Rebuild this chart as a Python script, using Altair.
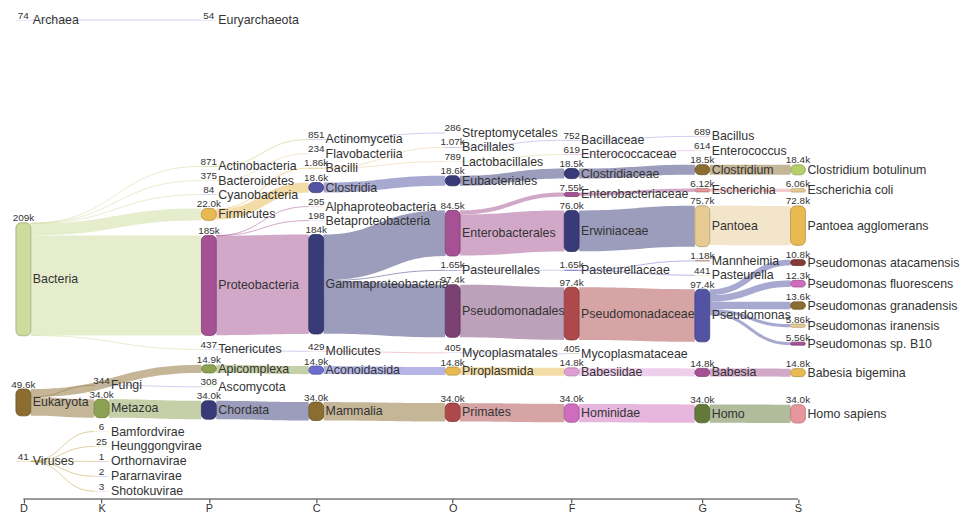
import altair as alt
import pandas as pd

# ---------------- data (taxonomy tree, depth-first order) ----------------
ranks = ["D", "K", "P", "C", "O", "F", "G", "S"]

taxa = [
    "Archaea", "Euryarchaeota",
    "Bacteria",
    "Actinobacteria", "Actinomycetia", "Streptomycetales",
    "Bacteroidetes", "Flavobacteriia",
    "Cyanobacteria",
    "Firmicutes", "Bacilli", "Bacillales", "Bacillaceae", "Bacillus",
    "Lactobacillales", "Enterococcaceae", "Enterococcus",
    "Clostridia", "Eubacteriales", "Clostridiaceae", "Clostridium", "Clostridium botulinum",
    "Proteobacteria", "Alphaproteobacteria", "Betaproteobacteria", "Gammaproteobacteria",
    "Enterobacterales", "Enterobacteriaceae", "Escherichia", "Escherichia coli",
    "Erwiniaceae", "Pantoea", "Pantoea agglomerans",
    "Pasteurellales", "Pasteurellaceae", "Mannheimia", "Pasteurella",
    "Pseudomonadales", "Pseudomonadaceae", "Pseudomonas",
    "Pseudomonas atacamensis", "Pseudomonas fluorescens", "Pseudomonas granadensis",
    "Pseudomonas iranensis", "Pseudomonas sp. B10",
    "Tenericutes", "Mollicutes", "Mycoplasmatales", "Mycoplasmataceae",
    "Eukaryota",
    "Apicomplexa", "Aconoidasida", "Piroplasmida", "Babesiidae", "Babesia", "Babesia bigemina",
    "Fungi", "Ascomycota",
    "Metazoa", "Chordata", "Mammalia", "Primates", "Hominidae", "Homo", "Homo sapiens",
    "Viruses", "Bamfordvirae", "Heunggongvirae", "Orthornavirae", "Pararnavirae", "Shotokuvirae",
]

taxon_rank = [
    "D", "P",
    "D",
    "P", "C", "O",
    "P", "C",
    "P",
    "P", "C", "O", "F", "G",
    "O", "F", "G",
    "C", "O", "F", "G", "S",
    "P", "C", "C", "C",
    "O", "F", "G", "S",
    "F", "G", "S",
    "O", "F", "G", "G",
    "O", "F", "G",
    "S", "S", "S",
    "S", "S",
    "P", "C", "O", "F",
    "D",
    "P", "C", "O", "F", "G", "S",
    "K", "P",
    "K", "P", "C", "O", "F", "G", "S",
    "D", "K", "K", "K", "K", "K",
]

clade_reads = [
    74, 54,
    209000,
    871, 851, 286,
    375, 234,
    84,
    22000, 1860, 1070, 752, 689,
    789, 619, 614,
    18600, 18600, 18500, 18500, 18400,
    185000, 295, 198, 184000,
    84500, 7550, 6120, 6060,
    76000, 75700, 72800,
    1650, 1650, 1180, 441,
    97400, 97400, 97400,
    10800, 12300, 13600,
    5860, 5560,
    437, 429, 405, 405,
    49600,
    14900, 14900, 14800, 14800, 14800, 14800,
    344, 308,
    34000, 34000, 34000, 34000, 34000, 34000, 34000,
    41, 6, 25, 1, 2, 3,
]

parent_taxon = [
    "", "Archaea",
    "",
    "Bacteria", "Actinobacteria", "Actinomycetia",
    "Bacteria", "Bacteroidetes",
    "Bacteria",
    "Bacteria", "Firmicutes", "Bacilli", "Bacillales", "Bacillaceae",
    "Bacilli", "Lactobacillales", "Enterococcaceae",
    "Firmicutes", "Clostridia", "Eubacteriales", "Clostridiaceae", "Clostridium",
    "Bacteria", "Proteobacteria", "Proteobacteria", "Proteobacteria",
    "Gammaproteobacteria", "Enterobacterales", "Enterobacteriaceae", "Escherichia",
    "Enterobacterales", "Erwiniaceae", "Pantoea",
    "Gammaproteobacteria", "Pasteurellales", "Pasteurellaceae", "Pasteurellaceae",
    "Gammaproteobacteria", "Pseudomonadales", "Pseudomonadaceae",
    "Pseudomonas", "Pseudomonas", "Pseudomonas",
    "Pseudomonas", "Pseudomonas",
    "Bacteria", "Tenericutes", "Mollicutes", "Mycoplasmatales",
    "",
    "Eukaryota", "Apicomplexa", "Aconoidasida", "Piroplasmida", "Babesiidae", "Babesia",
    "Eukaryota", "Fungi",
    "Eukaryota", "Metazoa", "Chordata", "Mammalia", "Primates", "Hominidae", "Homo",
    "", "Viruses", "Viruses", "Viruses", "Viruses", "Viruses",
]

# ---------------- styles ----------------
taxon_color = {
    "Archaea": "#9c9ede", "Euryarchaeota": "#9c9ede", "Bacteria": "#cedb9c",
    "Actinobacteria": "#b5cf6b", "Actinomycetia": "#9c9ede", "Streptomycetales": "#e7cb94",
    "Bacteroidetes": "#e7cb94", "Flavobacteriia": "#d6616b", "Cyanobacteria": "#6b6ecf",
    "Firmicutes": "#e7ba52", "Bacilli": "#e7cb94", "Bacillales": "#9c9ede",
    "Bacillaceae": "#9c9ede", "Bacillus": "#ce6dbd", "Lactobacillales": "#cedb9c",
    "Enterococcaceae": "#de9ed6", "Enterococcus": "#b5cf6b", "Clostridia": "#5254a3",
    "Eubacteriales": "#393b79", "Clostridiaceae": "#393b79", "Clostridium": "#8c6d31",
    "Clostridium botulinum": "#b5cf6b", "Proteobacteria": "#a55194",
    "Alphaproteobacteria": "#e7969c", "Betaproteobacteria": "#9c9ede",
    "Gammaproteobacteria": "#393b79", "Enterobacterales": "#a55194",
    "Enterobacteriaceae": "#a55194", "Escherichia": "#e7969c", "Escherichia coli": "#e7cb94",
    "Erwiniaceae": "#393b79", "Pantoea": "#e7cb94", "Pantoea agglomerans": "#e7ba52",
    "Pasteurellales": "#9c9ede", "Pasteurellaceae": "#6b6ecf", "Mannheimia": "#843c39",
    "Pasteurella": "#e7ba52", "Pseudomonadales": "#7b4173", "Pseudomonadaceae": "#ad494a",
    "Pseudomonas": "#5254a3", "Pseudomonas atacamensis": "#843c39",
    "Pseudomonas fluorescens": "#ce6dbd", "Pseudomonas granadensis": "#8c6d31",
    "Pseudomonas iranensis": "#e7cb94", "Pseudomonas sp. B10": "#a55194",
    "Tenericutes": "#9c9ede", "Mollicutes": "#e7969c", "Mycoplasmatales": "#9c9ede",
    "Mycoplasmataceae": "#637939", "Eukaryota": "#8c6d31", "Apicomplexa": "#8ca252",
    "Aconoidasida": "#6b6ecf", "Piroplasmida": "#e7ba52", "Babesiidae": "#de9ed6",
    "Babesia": "#a55194", "Babesia bigemina": "#e7ba52", "Fungi": "#9c9ede",
    "Ascomycota": "#cedb9c", "Metazoa": "#8ca252", "Chordata": "#393b79",
    "Mammalia": "#8c6d31", "Primates": "#ad494a", "Hominidae": "#ce6dbd", "Homo": "#637939",
    "Homo sapiens": "#e7969c", "Viruses": "#bd9e39", "Bamfordvirae": "#e7cb94",
    "Heunggongvirae": "#b5cf6b", "Orthornavirae": "#ad494a", "Pararnavirae": "#6b6ecf",
    "Shotokuvirae": "#de9ed6",
}

FONT = "Liberation Sans, Arial, Helvetica, sans-serif"
NODE_W = 15
KY = 0.000545          # pixels per read
PAD = 14               # node padding
FAN_PAD = 15           # spacing of leaf fans
TOP, BOTTOM = 10.0, 485.0
X_START = 15.5
GAP_BASE, CHAR_W = 25.9, 5.88   # column spacing scaled by label length
W, H = 957, 493
SAMPLES = 24

# ---------------- sankey layout ----------------
N = len(taxa)
index = {t: i for i, t in enumerate(taxa)}
hgt = [v * KY for v in clade_reads]
links = [(index[p], i, clade_reads[i]) for i, p in enumerate(parent_taxon) if p]
par = [-1] * N
children = [[] for _ in range(N)]
for s, t, v in links:
    par[t] = s
    children[s].append(t)
lw = [(v / 1000.0) ** 3 for v in clade_reads]   # stiffness of the link into each node
leafy = [len(children[s]) > 1 and all(not children[k] for k in children[s]) for s in range(N)]

col_members = {r: [i for i in range(N) if taxon_rank[i] == r] for r in ranks}
col_center = {}
xc = X_START
for r in ranks:
    col_center[r] = xc
    xc += GAP_BASE + CHAR_W * max(len(taxa[i]) for i in col_members[r])


def root_of(i):
    while par[i] >= 0:
        i = par[i]
    return i


comp_of = [root_of(i) for i in range(N)]
roots = col_members[ranks[0]]
comp_cols = {rt: [[i for i in col_members[r] if comp_of[i] == rt] for r in ranks] for rt in roots}

cen = [0.0] * N
for rt in roots:
    for m in comp_cols[rt]:
        yy = 0.0
        for i in m:
            cen[i] = yy + hgt[i] / 2
            yy += hgt[i] + PAD


def slot(s, t):
    return sum(hgt[k] for k in children[s] if (cen[k], k) < (cen[t], t))


def align_off(s, t):
    if not leafy[s]:
        return slot(s, t)
    kids = sorted(children[s], key=lambda k: (cen[k], k))
    y = -(len(kids) - 1) * FAN_PAD / 2
    for k in kids:
        if k == t:
            return y
        y += hgt[k] + FAN_PAD
    return y


def project(members, targets, weights):
    n = len(members)
    off = [0.0] * n
    for k in range(1, n):
        off[k] = off[k - 1] + (hgt[members[k - 1]] + hgt[members[k]]) / 2 + PAD
    blocks = []
    for k in range(n):
        blocks.append([targets[k] - off[k], weights[k], 1])
        while len(blocks) > 1 and blocks[-2][0] > blocks[-1][0]:
            v2, w2, c2 = blocks.pop()
            v1, w1, c1 = blocks.pop()
            blocks.append([(v1 * w1 + v2 * w2) / (w1 + w2), w1 + w2, c1 + c2])
    z = []
    for v, w, c in blocks:
        z.extend([v] * c)
    return [z[k] + off[k] for k in range(n)]


def sweep(cols):
    for m in cols:
        if not m:
            continue
        tg, wt = [], []
        for i in m:
            num = den = 0.0
            p = par[i]
            if p >= 0:
                d = align_off(p, i) - hgt[p] / 2 + hgt[i] / 2
                num += lw[i] * (cen[p] + d)
                den += lw[i]
            for k in children[i]:
                d = align_off(i, k) - hgt[i] / 2 + hgt[k] / 2
                num += lw[k] * (cen[k] - d)
                den += lw[k]
            tg.append(num / den)
            wt.append(den ** 6)      # heavier nodes keep their place in collisions
        for i, c in zip(m, project(m, tg, wt)):
            cen[i] = c


# relax every component on its own
for rt in roots:
    cols = comp_cols[rt]
    for it in range(700):
        sweep(cols)
        sweep(cols[::-1])


def shift(rt, s):
    for i in range(N):
        if comp_of[i] == rt:
            cen[i] += s


# stack components: lower ones rest on the bottom / on each other, the first floats to the top
for rt in roots[:0:-1]:
    slack = []
    for r in ranks:
        m = col_members[r]
        for k, i in enumerate(m):
            if comp_of[i] != rt:
                continue
            if k == len(m) - 1:
                slack.append(BOTTOM - (cen[i] + hgt[i] / 2))
            elif comp_of[m[k + 1]] != rt:
                j = m[k + 1]
                slack.append((cen[j] - hgt[j] / 2) - PAD - (cen[i] + hgt[i] / 2))
    shift(rt, min(slack))
shift(roots[0], TOP - min(cen[i] - hgt[i] / 2 for i in range(N) if comp_of[i] == roots[0]))

ytop = [cen[i] - hgt[i] / 2 for i in range(N)]
xleft = [col_center[taxon_rank[i]] - NODE_W / 2 for i in range(N)]

# ---------------- link geometry ----------------
link_list = []
for s in range(N):
    for t in children[s]:
        wd = hgt[t]
        ys = ytop[s] + slot(s, t) + wd / 2
        yt = ytop[t] + wd / 2
        link_list.append((wd, s, t, ys, yt))
link_list.sort(key=lambda L: -L[0])

rows = []
for n_l, (wd, s, t, ys, yt) in enumerate(link_list):
    xs = xleft[s] + NODE_W
    xt = xleft[t]
    xm = (xs + xt) / 2
    for k in range(SAMPLES + 1):
        tt = k / SAMPLES
        u = 1 - tt
        bx = u ** 3 * xs + 3 * u * u * tt * xm + 3 * u * tt * tt * xm + tt ** 3 * xt
        by = u ** 3 * ys + 3 * u * u * tt * ys + 3 * u * tt * tt * yt + tt ** 3 * yt
        rows.append({"lid": "L%03d" % n_l, "t": k, "x": bx, "y": by,
                     "w": max(1.0, wd), "color": taxon_color[taxa[s]]})
link_df = pd.DataFrame(rows)


def fmt(v):
    if v < 1000:
        return str(int(v))
    k = v / 1000
    if k >= 100:
        return "%.0fk" % k
    if k >= 10:
        return "%.1fk" % k
    return "%.2fk" % k


def darker(hx, f=0.78):
    r, g, b = int(hx[1:3], 16), int(hx[3:5], 16), int(hx[5:7], 16)
    return "#%02x%02x%02x" % (int(r * f), int(g * f), int(b * f))


node_df = pd.DataFrame({
    "name": taxa,
    "vtxt": [fmt(v) for v in clade_reads],
    "x0": xleft,
    "x1": [x + NODE_W for x in xleft],
    "y0": ytop,
    "y1": [ytop[i] + max(hgt[i], 0.2) for i in range(N)],
    "cx": [x + NODE_W / 2 for x in xleft],
    "tx": [x + NODE_W + 2 for x in xleft],
    "cy": cen,
    "vy": [y - 1.5 for y in ytop],
    "fill": [taxon_color[t] for t in taxa],
    "stroke": [darker(taxon_color[t]) for t in taxa],
    "sop": [0.8 if hh >= 3 else 0.0 for hh in hgt],
})

axis_df = pd.DataFrame({"a0": [col_center[ranks[0]]], "a1": [col_center[ranks[-1]]], "ay": [H]})

expr = "'%s'" % ranks[-1]
for k in range(len(ranks) - 2, -1, -1):
    mid = (col_center[ranks[k]] + col_center[ranks[k + 1]]) / 2
    expr = "datum.value < %.1f ? '%s' : (%s)" % (mid, ranks[k], expr)

xscale = alt.Scale(domain=[0, W], nice=False, zero=False)
yscale = alt.Scale(domain=[0, H], nice=False, zero=False, reverse=True)
xaxis = alt.Axis(values=[col_center[r] for r in ranks], labelExpr=expr, title=None,
                 grid=False, domain=False, tickSize=4, tickColor="#333", tickWidth=1,
                 labelColor="#333", labelFont=FONT, labelFontSize=11, labelPadding=0,
                 labelOverlap=False, labelFlush=False)


def X(f):
    return alt.X(f, type="quantitative", scale=xscale, axis=xaxis)


def Y(f):
    return alt.Y(f, type="quantitative", scale=yscale, axis=None)


link_layer = alt.Chart(link_df).mark_line(
    strokeOpacity=0.5, strokeCap="butt", strokeJoin="round"
).encode(
    x=X("x"), y=Y("y"), detail="lid:N", order="t:Q",
    color=alt.Color("color:N", scale=None),
    strokeWidth=alt.StrokeWidth("w:Q", scale=None),
)

axis_line = alt.Chart(axis_df).mark_rule(color="#333", strokeWidth=1).encode(
    x=X("a0"), x2=alt.X2("a1"), y=Y("ay"))

name_layer = alt.Chart(node_df).mark_text(
    align="left", baseline="middle", font=FONT, fontSize=12.5, color="#333"
).encode(x=X("tx"), y=Y("cy"), text="name:N")

value_layer = alt.Chart(node_df).mark_text(
    align="center", baseline="alphabetic", font=FONT, fontSize=10, color="#333"
).encode(x=X("cx"), y=Y("vy"), text="vtxt:N")

node_layer = alt.Chart(node_df).mark_rect(cornerRadius=5, strokeWidth=1).encode(
    x=X("x0"), x2=alt.X2("x1"), y=Y("y0"), y2=alt.Y2("y1"),
    fill=alt.Fill("fill:N", scale=None),
    stroke=alt.Stroke("stroke:N", scale=None),
    strokeOpacity=alt.StrokeOpacity("sop:Q", scale=None),
)

chart = alt.layer(link_layer, axis_line, name_layer, value_layer, node_layer).properties(
    width=W, height=H,
    autosize=alt.AutoSizeParams(type="none"),
    padding={"left": 0, "top": 0, "right": 8, "bottom": 15},
).configure_view(stroke=None)

chart.save("out.html", embed_options={"renderer": "svg", "actions": False})
